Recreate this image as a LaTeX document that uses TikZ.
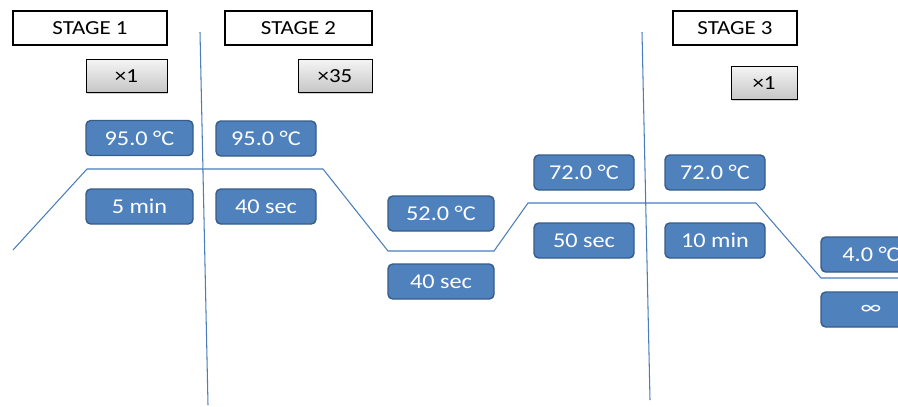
\documentclass[tikz,border=0pt]{standalone}
\usepackage{fontspec}
\setmainfont[FakeStretch=1.15]{Carlito}
\usetikzlibrary{shadows}
\definecolor{bfill}{HTML}{4F81BD}
\definecolor{bdraw}{HTML}{385D8A}
\definecolor{lineblue}{HTML}{4A7EBB}
\definecolor{gtop}{HTML}{F4F4F4}
\definecolor{gbot}{HTML}{C6C6C6}
\begin{document}
\begin{tikzpicture}[x=0.03cm,y=-0.03cm,
  bluebox/.style={draw=bdraw,fill=bfill,line width=1.2pt,rounded corners=4pt,text=white,
    font=\fontsize{18}{21}\selectfont,inner sep=0pt,minimum height=35*0.03cm},
  graybox/.style={draw=black,line width=0.6pt,top color=gtop,bottom color=gbot,
    drop shadow={shadow xshift=1.2pt,shadow yshift=-1.2pt,opacity=0.35},
    font=\fontsize{17}{20}\selectfont,inner sep=0pt,minimum height=33*0.03cm},
  stagebox/.style={draw=black,fill=white,line width=1.4pt,
    font=\fontsize{17}{20}\selectfont,inner sep=0pt,minimum height=34*0.03cm},
  profile/.style={draw=lineblue,line width=0.9pt},
  divider/.style={draw=lineblue,line width=0.9pt}]
\clip (0,0) rectangle (898,406);
\fill[white] (0,0) rectangle (898,406);
% dividers
\draw[divider] (200,32) -- (208,405);
\draw[divider] (642,32) -- (650,400);
% profile
\coordinate (p0) at (13,250);
\coordinate (p1) at (87,169);
\coordinate (p2) at (323,169);
\coordinate (p3) at (388,251);
\coordinate (p4) at (494,251);
\coordinate (p5) at (528,203);
\coordinate (p6) at (756,203);
\coordinate (p7) at (821,278);
\coordinate (p8) at (900,278);
\draw[profile] (p0) -- (p1) -- (p2) -- (p3) -- (p4) -- (p5) -- (p6) -- (p7) -- (p8);
% stage labels
\node[stagebox,minimum width=154*0.03cm] (s1) at (90,28) {STAGE 1};
\node[stagebox,minimum width=147*0.03cm] (s2) at (298.5,28) {STAGE 2};
\node[stagebox,minimum width=124*0.03cm] (s3) at (735,28) {STAGE 3};
% repeat counts
\node[graybox,minimum width=81*0.03cm] (g1) at (126.5,76) {×1};
\node[graybox,minimum width=74*0.03cm] (g2) at (335,76) {×35};
\node[graybox,minimum width=66*0.03cm] (g3) at (764,83) {×1};
% temperatures and times
\node[bluebox,minimum width=107*0.03cm] (t1) at (139.5,138) {95.0 °C};
\node[bluebox,minimum width=107*0.03cm] (d1) at (139.5,206.5) {5 min};
\node[bluebox,minimum width=100*0.03cm] (t2) at (266,138.5) {95.0 °C};
\node[bluebox,minimum width=100*0.03cm] (d2) at (266,206.5) {40 sec};
\node[bluebox,minimum width=106*0.03cm] (t3) at (441,213.5) {52.0 °C};
\node[bluebox,minimum width=106*0.03cm] (d3) at (441,281.5) {40 sec};
\node[bluebox,minimum width=100*0.03cm] (t4) at (584,172.5) {72.0 °C};
\node[bluebox,minimum width=100*0.03cm] (d4) at (584,240.5) {50 sec};
\node[bluebox,minimum width=100*0.03cm] (t5) at (715,172.5) {72.0 °C};
\node[bluebox,minimum width=100*0.03cm] (d5) at (715,240.5) {10 min};
\node[bluebox,minimum width=100*0.03cm] (t6) at (871,254.5) {4.0 °C};
\node[bluebox,minimum width=100*0.03cm] (d6) at (871,309.5) {∞};
\end{tikzpicture}
\end{document}
